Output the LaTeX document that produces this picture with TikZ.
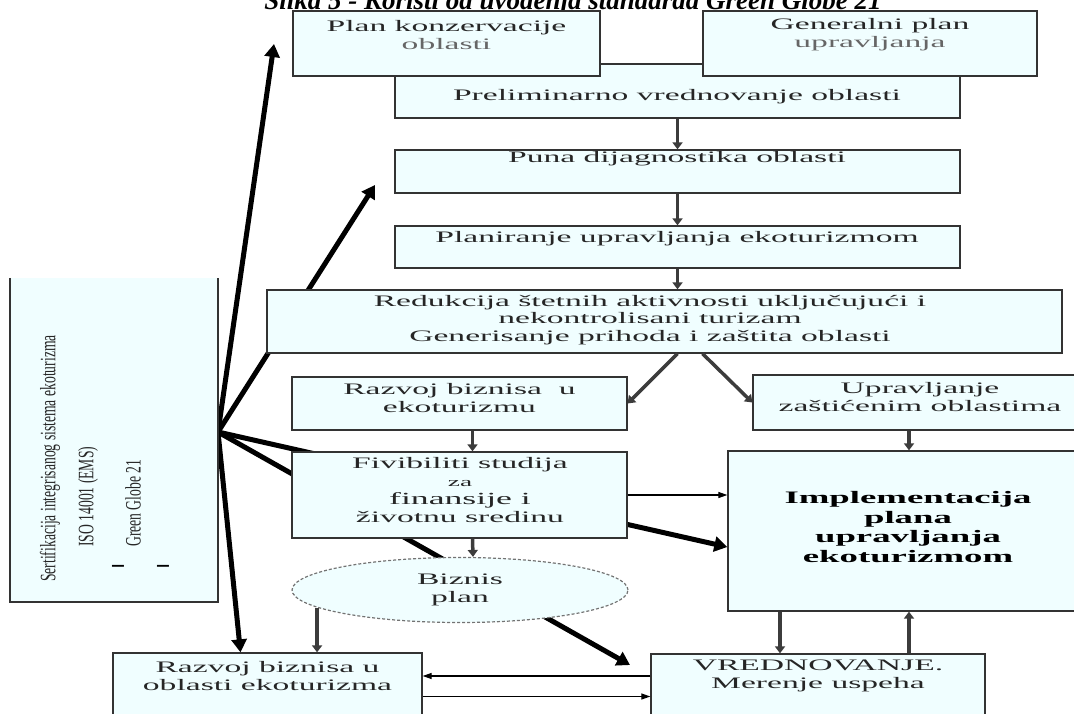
\documentclass[tikz,border=0pt]{standalone}
\usepackage{fontspec}
\setmainfont{Liberation Serif}
\newfontfamily\boxfont[FakeStretch=2.1]{Liberation Serif}
\newfontfamily\tallfont[FakeStretch=0.62]{Liberation Serif}
\usetikzlibrary{shapes.geometric,arrows.meta,backgrounds}
\definecolor{boxfill}{RGB}{240,254,255}
\definecolor{boxline}{RGB}{51,51,51}
\definecolor{flowgray}{RGB}{60,60,60}

\begin{document}
\begin{tikzpicture}[x=1pt,y=-1pt,
    box/.style={draw=boxline,fill=boxfill,line width=1.3pt,inner sep=0pt},
    txt/.style={font=\boxfont\fontsize{16}{18}\selectfont,align=center,text=black!85,inner sep=0pt},
    rot/.style={font=\tallfont\fontsize{22}{24}\selectfont,rotate=90,inner sep=0pt,text=black!85},
    flow/.style={->,>={Triangle[length=7pt,width=10pt]},draw=flowgray,line width=3.5pt},
    hair/.style={->,>={Triangle[length=9pt,width=6pt]},line width=1.2pt},
    heavy/.style={->,>={Triangle[length=13pt,width=15pt]},line width=5pt}]
            \useasboundingbox (0,0) rectangle (1074,714);
            \clip (0,0) rectangle (1074,714);
            \node[font=\bfseries\itshape\fontsize{27}{30}\selectfont,anchor=base] (title) at (573,10) {Slika 5 - Koristi od uvođenja standarda Green Globe 21};
            \node[box,minimum width=565pt,minimum height=54pt] (prelim) at (677.5,91) {};
            \node[box,minimum width=307pt,minimum height=65pt] (plankon) at (446.5,43.5) {};
            \node[box,minimum width=334pt,minimum height=65pt] (genplan) at (870,43.5) {};
            \node[box,minimum width=565pt,minimum height=43pt] (puna) at (677.5,171.5) {};
            \node[box,minimum width=565pt,minimum height=42pt] (planir) at (677.5,247) {};
            \node[box,minimum width=795pt,minimum height=63pt] (reduk) at (664.5,321.5) {};
            \node[box,minimum width=335pt,minimum height=53pt] (razvoj) at (459.5,403.5) {};
            \node[box,minimum width=337pt,minimum height=55pt] (uprav) at (921.5,402.5) {};
            \node[box,minimum width=335pt,minimum height=86pt] (fizib) at (459.5,495) {};
            \node[box,minimum width=362pt,minimum height=160pt] (impl) at (909,531) {};
            \node[ellipse,draw=black!55,densely dashed,fill=boxfill,line width=1.2pt,minimum width=336pt,minimum height=65pt,inner sep=0pt] (bizplan) at (460,590) {};
            \node[box,minimum width=309pt,minimum height=77pt] (razbot) at (267.5,691.5) {};
            \node[box,minimum width=334pt,minimum height=76pt] (vred) at (818,692) {};
            \node[fill=boxfill,minimum width=208pt,minimum height=324pt,inner sep=0pt] (sert) at (114,440) {};
            \draw[draw=boxline,line width=2pt] (sert.north west) -- (sert.south west) -- (sert.south east) -- (sert.north east);
            \coordinate (hub) at (218,432);
            \coordinate (toplan) at (274,44);
            \coordinate (topuna) at (375,185);
            \coordinate (tovred) at (630,665);
            \node[txt] (plankontxt) at (446.5,35) {Plan konzervacije\\{\color{black!60}oblasti}};
            \node[txt] (genplantxt) at (870,35) {Generalni plan\\{\color{black!60}upravljanja}};
            \node[txt] (prelimtxt) at (677,97) {Preliminarno vrednovanje oblasti};
            \node[txt] (punatxt) at (677,159) {Puna dijagnostika oblasti};
            \node[txt] (planirtxt) at (677,239) {Planiranje upravljanja ekoturizmom};
            \node[txt,font=\boxfont\fontsize{16}{17.5}\selectfont] (reduktxt) at (650,320) {Redukcija štetnih aktivnosti uključujući i\\nekontrolisani turizam\\Generisanje prihoda i zaštita oblasti};
            \node[txt] (razvojtxt) at (459.5,398) {Razvoj biznisa\ \ u\\ekoturizmu};
            \node[txt] (upravtxt) at (920,397) {Upravljanje\\zaštićenim oblastima};
            \node[txt] (fizibtxt) at (460,490) {Fivibiliti studija\\{\fontsize{13}{18}\selectfont za}\\{\fontsize{17}{18}\selectfont finansije i}\\životnu sredinu};
            \node[txt] (biztxt) at (460,590) {Biznis\\plan};
            \node[txt,font=\boxfont\bfseries\fontsize{17.5}{19.5}\selectfont,text=black] (impltxt) at (908,527) {Implementacija\\plana\\upravljanja\\ekoturizmom};
            \node[txt] (razbottxt) at (267.5,676) {Razvoj biznisa u\\oblasti ekoturizma};
            \node[txt] (vredtxt) at (818,676) {VREDNOVANJE.\\Merenje uspeha};
            \node[rot,anchor=west] (sert1) at (50,582) {Sertifikacija integrisanog sistema ekoturizma};
            \node[rot,anchor=west] (sert2) at (88,547) {ISO 14001 (EMS)};
            \node[rot,anchor=west] (sert3) at (133,547) {Green Globe 21};
            \node[txt,font=\boxfont\bfseries\fontsize{22}{22}\selectfont,text=black] (dash1) at (118,568) {-};
            \node[txt,font=\boxfont\bfseries\fontsize{22}{22}\selectfont,text=black] (dash2) at (163,568) {-};
            \draw[flow] (prelim.south) -- (puna.north);
            \draw[flow] (puna.south) -- (planir.north);
            \draw[flow] (planir.south) -- (planir.south |- reduk.north);
            \draw[flow] (planir.south |- reduk.south) -- (razvoj.east);
            \draw[flow] ([xshift=25pt]planir.south |- reduk.south) -- (uprav.west);
            \draw[flow] ([xshift=13pt]razvoj.south) -- ([xshift=13pt]fizib.north);
            \draw[flow] (impl.north |- uprav.south) -- (impl.north);
            \draw[flow] ([xshift=13pt]fizib.south) -- ([xshift=13pt]bizplan.north);
            \draw[flow] (bizplan.187) -- (bizplan.187 |- razbot.north);
            \draw[flow] ([xshift=-129pt]impl.south) -- ([xshift=-129pt]impl.south |- vred.north);
            \draw[flow] (impl.south |- vred.north) -- (impl.south);
            \draw[hair] (fizib.east) -- (fizib.east -| impl.west);
            \draw[hair] ([yshift=16pt]vred.west) -- ([yshift=16pt]vred.west -| razbot.east);
            \draw[hair] ([yshift=-5pt]razbot.east) -- ([yshift=-5pt]razbot.east -| vred.west);
            \begin{scope}[on background layer]
                \draw[heavy] (hub) -- (toplan);
                \draw[heavy] (hub) -- (topuna);
                \draw[heavy] (hub) -- ([yshift=-16pt]impl.west);
                \draw[heavy] (hub) -- (tovred);
                \draw[heavy] (hub) -- ([xshift=-27pt]razbot.north);
            \end{scope}
        \end{tikzpicture}
\end{document}
